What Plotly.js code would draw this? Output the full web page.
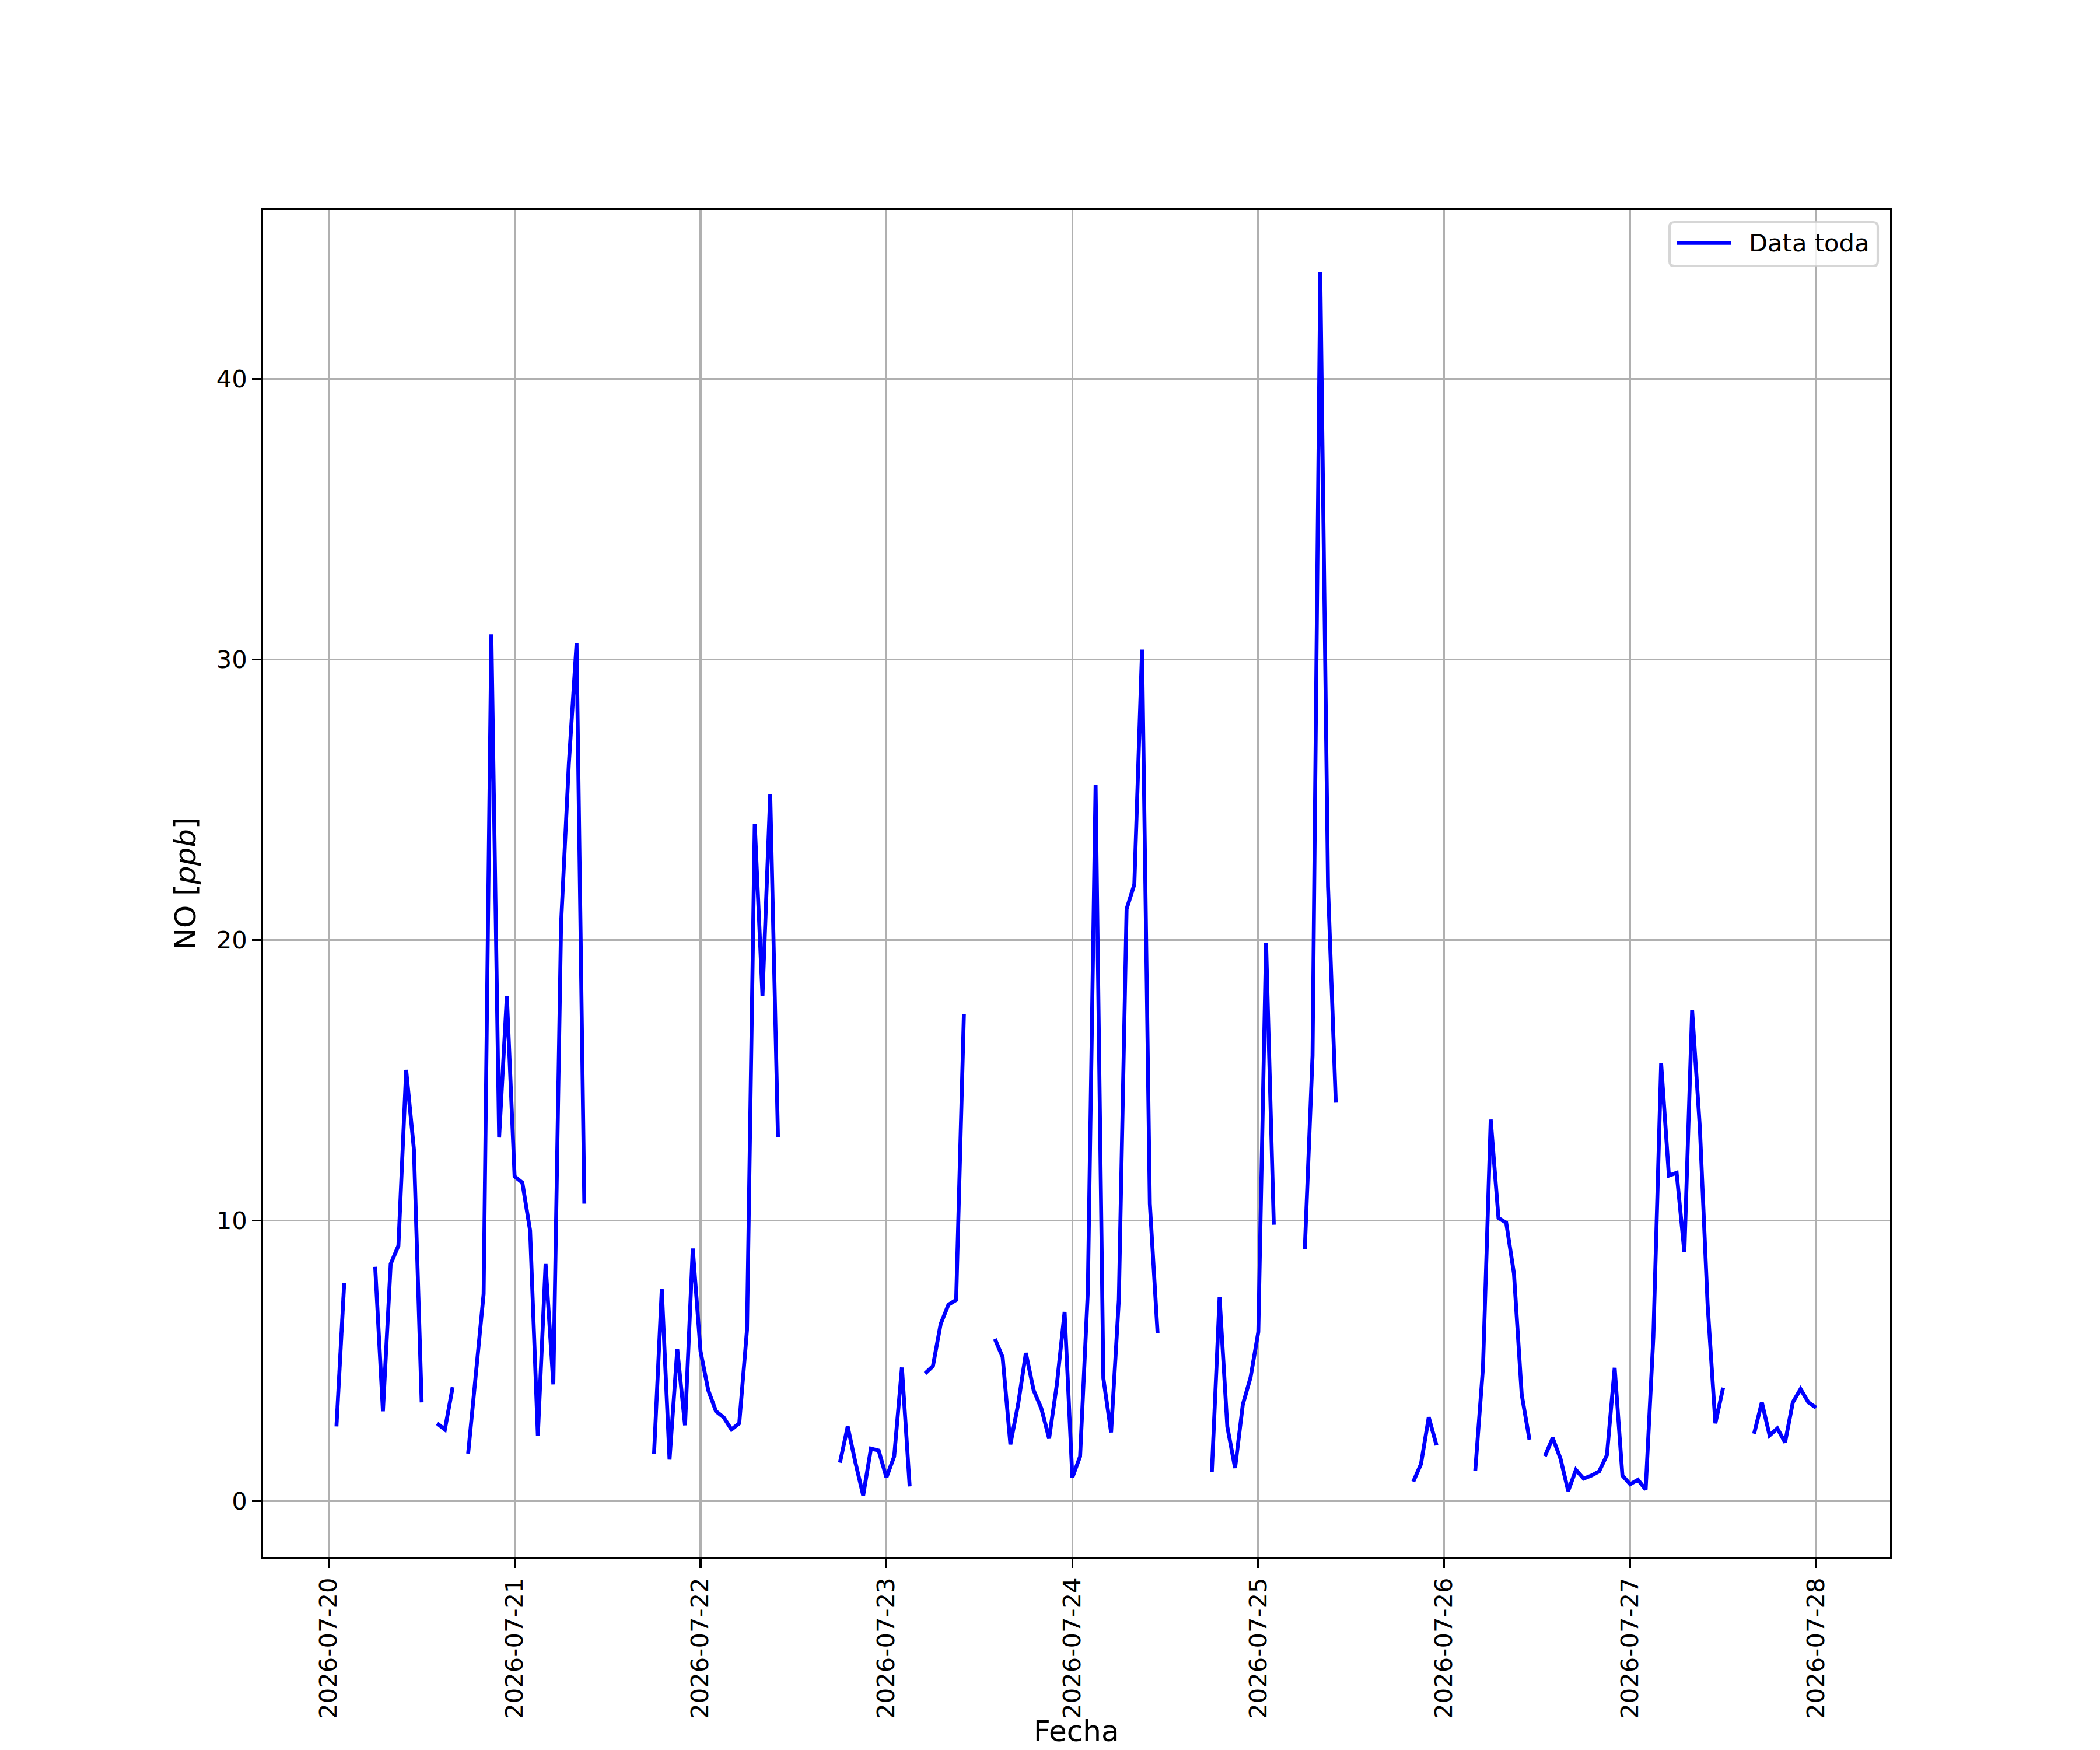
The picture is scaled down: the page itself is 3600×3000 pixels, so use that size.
<!DOCTYPE html>
<html>
<head>
<meta charset="utf-8">
<script src="https://cdn.plot.ly/plotly-3.0.1.min.js"></script>
<style>html,body{margin:0;padding:0;background:#fff;}</style>
</head>
<body>
<div id="chart" style="width:3600px;height:3000px;"></div>
<script>
// Hourly NO [ppb] values, index = hour of day (null = no data)
var days = ['2026-07-20','2026-07-21','2026-07-22','2026-07-23','2026-07-24','2026-07-25','2026-07-26','2026-07-27','2026-07-28'];

var no_0720 = [null, 2.66, 7.77, null, null, null, 8.35, 3.2, 8.45, 9.1, 15.37, 12.54,
               3.52, null, 2.77, 2.55, 4.06, null, 1.69, 4.6, 7.38, 30.9, 12.96, 18.0];
var no_0721 = [11.57, 11.35, 9.64, 2.34, 8.45, 4.16, 20.58, 26.27, 30.57, 10.6, null, null,
               null, null, null, null, null, null, 1.69, 7.55, 1.48, 5.41, 2.70, 9.0];
var no_0722 = [5.34, 3.95, 3.2, 2.98, 2.55, 2.77, 6.1, 24.13, 18.0, 25.2, 12.96, null,
               null, null, null, null, null, null, 1.37, 2.66, 1.37, 0.2, 1.87, 1.8];
var no_0723 = [0.84, 1.59, 4.76, 0.52, null, 4.55, 4.81, 6.31, 7.0, 7.17, 17.36, null,
               null, null, 5.78, 5.13, 2.02, 3.45, 5.28, 3.95, 3.3, 2.23, 4.16, 6.74];
var no_0724 = [0.84, 1.59, 7.49, 25.52, 4.38, 2.45, 7.17, 21.1, 21.98, 30.35, 10.6, 5.99,
               null, null, null, null, null, null, 1.03, 7.26, 2.65, 1.18, 3.44, 4.41];
var no_0725 = [6.03, 19.9, 9.85, null, null, null, 8.97, 15.88, 43.8, 21.9, 14.2, null,
               null, null, null, null, null, null, null, null, 0.69, 1.32, 2.99, 1.99];
var no_0726 = [null, null, null, null, 1.08, 4.75, 13.6, 10.09, 9.92, 8.11, 3.8, 2.19,
               null, 1.6, 2.25, 1.52, 0.36, 1.11, 0.8, 0.91, 1.06, 1.64, 4.75, 0.91];
var no_0727 = [0.6, 0.76, 0.41, 5.88, 15.6, 11.6, 11.7, 8.87, 17.5, 13.3, 7.0, 2.77,
               4.04, null, null, null, 2.4, 3.52, 2.34, 2.59, 2.09, 3.52, 3.99, 3.52];
var no_0728 = [3.33];

var dayValues = [no_0720, no_0721, no_0722, no_0723, no_0724, no_0725, no_0726, no_0727, no_0728];

var seriesName = 'Data toda';
var xTitle = 'Fecha';
var yTitle = 'NO [<i>ppb</i>]';
var yTicks = [0, 10, 20, 30, 40];
var xTickLabels = days.slice();

var xs = [], ys = [];
for (var d = 0; d < days.length; d++) {
  var vals = dayValues[d];
  for (var h = 0; h < vals.length; h++) {
    var hh = (h < 10 ? '0' : '') + h;
    xs.push(days[d] + ' ' + hh + ':00');
    ys.push(vals[h]);
  }
}

var PT = 300 / 72;
var FS = 10 * PT;
var LFS = 12 * PT;
var font = {family: 'DejaVu Sans, Verdana, sans-serif', size: FS, color: '#000000'};
var labelFont = {family: 'DejaVu Sans, Verdana, sans-serif', size: LFS, color: '#000000'};
var LINE_W = 1.6 * PT;

var trace = {
  x: xs, y: ys, type: 'scatter', mode: 'lines',
  name: seriesName, connectgaps: false, showlegend: false,
  line: {color: '#0000ff', width: LINE_W}
};

// plot area in pixels (for legend / title placement)
var W = 3600, H = 3000, ML = 450, MR = 360, MT = 360, MB = 330;
var PW = W - ML - MR, PH = H - MT - MB;
function px(x) { return (x - ML) / PW; }
function py(y) { return (H - MB - y) / PH; }

// legend box geometry (pixels)
var LB = {x0: 2862, x1: 3219, y0: 381, y1: 456, r: 8};
function roundRectPath(b) {
  var rx = b.r / PW, ry = b.r / PH;
  var x0 = px(b.x0), x1 = px(b.x1), yt = py(b.y0), yb = py(b.y1);
  return 'M' + (x0 + rx) + ',' + yt +
         ' L' + (x1 - rx) + ',' + yt +
         ' Q' + x1 + ',' + yt + ' ' + x1 + ',' + (yt - ry) +
         ' L' + x1 + ',' + (yb + ry) +
         ' Q' + x1 + ',' + yb + ' ' + (x1 - rx) + ',' + yb +
         ' L' + (x0 + rx) + ',' + yb +
         ' Q' + x0 + ',' + yb + ' ' + x0 + ',' + (yb + ry) +
         ' L' + x0 + ',' + (yt - ry) +
         ' Q' + x0 + ',' + yt + ' ' + (x0 + rx) + ',' + yt + ' Z';
}
var legY = (LB.y0 + LB.y1) / 2 - 2;

var axisCommon = {
  showline: true, linecolor: '#000000', linewidth: 0.8 * PT, mirror: true,
  ticks: 'outside', ticklen: 3.5 * PT, tickwidth: 0.8 * PT, tickcolor: '#000000',
  showgrid: true, gridcolor: '#b0b0b0', gridwidth: 0.8 * PT,
  zeroline: false, tickfont: font, automargin: false
};

var layout = {
  width: W, height: H,
  margin: {l: ML, r: MR, t: MT, b: MB, pad: 0},
  paper_bgcolor: '#ffffff', plot_bgcolor: '#ffffff',
  showlegend: false,
  font: font,
  xaxis: Object.assign({}, axisCommon, {
    type: 'date',
    range: ['2026-07-19 15:27', '2026-07-28 09:33'],
    tickmode: 'array', tickvals: days, ticktext: xTickLabels,
    tickangle: -90, ticklabelstandoff: 3.5 * PT
  }),
  yaxis: Object.assign({}, axisCommon, {
    range: [-2.01, 46.02],
    tickmode: 'array', tickvals: yTicks, ticktext: yTicks.map(String),
    ticklabelstandoff: 3.5 * PT,
    title: {text: yTitle, font: labelFont, standoff: 20}
  }),
  shapes: [
    {type: 'path', xref: 'paper', yref: 'paper', layer: 'above',
     path: roundRectPath(LB), fillcolor: 'rgba(255,255,255,0.8)',
     line: {color: 'rgba(204,204,204,0.8)', width: 1.0 * PT}},
    {type: 'line', xref: 'paper', yref: 'paper', layer: 'above',
     x0: px(2875), x1: px(2967), y0: py(legY), y1: py(legY),
     line: {color: '#0000ff', width: LINE_W}}
  ],
  annotations: [
    {xref: 'paper', yref: 'paper', x: px(2996), y: py(legY),
     xanchor: 'left', yanchor: 'middle', showarrow: false,
     text: seriesName, font: font},
    {xref: 'paper', yref: 'paper', x: 0.5, y: py(2998),
     xanchor: 'center', yanchor: 'bottom', showarrow: false, borderpad: 0,
     text: xTitle, font: labelFont}
  ]
};

Plotly.newPlot('chart', [trace], layout, {staticPlot: true, displayModeBar: false});
</script>
</body>
</html>
